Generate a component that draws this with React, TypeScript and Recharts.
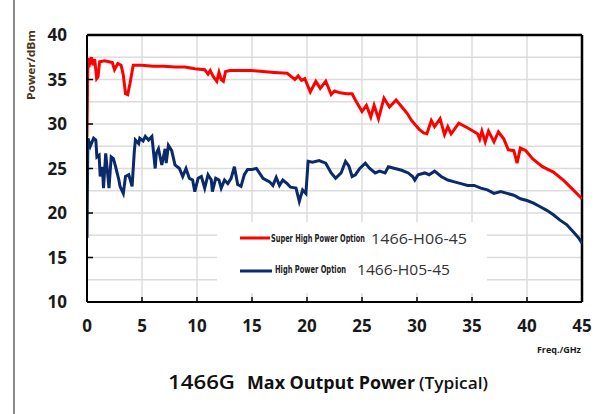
import { LineChart, Line, XAxis, YAxis, ReferenceLine, Legend } from "recharts";
/* eslint-disable  @typescript-eslint/no-explicit-any */

// Super High Power Option (1466-H06-45)
const RED_FREQ = [
  0, 0.08, 0.25, 0.4, 0.55, 0.7, 0.88, 1.0, 1.15, 1.6, 2.0, 2.3, 2.5, 2.8, 3.1,
  3.3, 3.5, 3.7, 3.9, 4.2, 5, 6, 7, 8, 8.9, 9.8, 10.7, 11.0, 11.2, 11.5, 11.8,
  12.0, 12.2, 12.4, 12.6, 13.0, 14.0, 15.0, 16.0, 17.0, 18.2, 18.6, 18.9, 19.2,
  19.5, 19.8, 20.3, 20.8, 21.2, 21.7, 22.2, 22.5, 23.0, 23.6, 24.1, 24.4, 25.0,
  25.4, 25.8, 26.1, 26.5, 27.0, 27.5, 28.1, 28.7, 29.1, 29.5, 30.2, 30.6, 30.9,
  31.3, 31.6, 32.1, 32.5, 32.8, 33.1, 33.8, 34.7, 35.5, 35.7, 35.9, 36.2, 36.5,
  37.0, 37.4, 37.9, 38.3, 38.8, 39.1, 39.4, 39.9, 40.5, 41.4, 42.4, 43.3, 44.2,
  45.0,
];
const RED_POWER = [
  28.5, 37.4, 36.8, 37.5, 36.6, 37.3, 35.1, 35.3, 37.0, 37.1, 37.0, 36.9, 36.1,
  36.8, 36.6, 35.5, 33.4, 33.3, 34.5, 36.6, 36.6, 36.5, 36.5, 36.4, 36.4, 36.2,
  36.1, 35.6, 36.0, 35.3, 34.8, 35.8, 35.0, 34.8, 35.9, 36.0, 36.0, 36.0, 35.9,
  35.8, 35.7, 35.3, 35.0, 35.4, 34.9, 35.1, 33.6, 34.8, 34.0, 34.8, 33.3, 33.7,
  33.5, 33.4, 33.4, 32.7, 31.4, 32.1, 30.8, 32.1, 30.6, 32.9, 31.9, 32.7, 31.8,
  31.2, 30.4, 29.4, 29.0, 28.9, 30.4, 29.7, 30.6, 28.8, 29.7, 28.9, 30.1, 29.5,
  28.9, 28.3, 29.2, 28.0, 29.2, 28.0, 29.1, 28.3, 27.1, 27.0, 25.6, 27.3, 27.0,
  26.1, 25.2, 24.6, 23.7, 22.6, 21.6,
];

// High Power Option (1466-H05-45)
const BLUE_FREQ = [
  0, 0.08, 0.3, 0.6, 0.8, 0.9, 1.1, 1.2, 1.4, 1.5, 1.7, 2.0, 2.2, 2.4, 2.6, 2.9,
  3.0, 3.3, 3.5, 3.8, 4.1, 4.3, 4.4, 4.7, 4.8, 5.1, 5.3, 5.6, 5.9, 6.2, 6.3,
  6.5, 6.8, 7.1, 7.2, 7.4, 7.7, 8.0, 8.4, 8.7, 9.0, 9.3, 9.6, 9.8, 10.1, 10.4,
  10.7, 11.0, 11.3, 11.4, 11.7, 12.0, 12.2, 12.5, 12.8, 13.1, 13.4, 13.7, 14.0,
  14.3, 14.6, 15.0, 15.4, 16.0, 16.6, 16.9, 17.2, 17.5, 17.8, 18.2, 18.5, 19.0,
  19.3, 19.6, 19.9, 20.1, 20.5, 21.1, 21.7, 22.2, 22.6, 23.1, 23.5, 23.8, 24.1,
  24.4, 24.8, 25.3, 25.7, 26.2, 26.6, 27.1, 27.4, 28.0, 28.6, 29.2, 29.6, 29.8,
  30.1, 30.7, 31.1, 31.6, 32.2, 32.8, 33.4, 34.0, 34.6, 35.2, 35.8, 36.4, 37.0,
  37.6, 38.2, 38.8, 39.4, 40.0, 40.6, 41.2, 41.8, 42.4, 43.0, 43.6, 44.2, 44.7,
  45.0,
];
const BLUE_POWER = [
  17.2, 28.4, 27.5, 28.4, 28.2, 26.3, 26.5, 24.1, 25.2, 22.8, 26.7, 22.8, 26.3,
  26.1, 25.2, 23.7, 23.0, 22.2, 24.1, 24.3, 23.0, 26.9, 28.2, 27.8, 28.4, 28.1,
  28.6, 28.2, 28.6, 25.0, 26.7, 27.2, 25.4, 27.2, 25.6, 27.6, 27.0, 25.4, 25.0,
  24.1, 25.0, 23.9, 23.7, 22.4, 23.9, 24.1, 22.8, 24.3, 23.7, 22.4, 23.9, 23.7,
  22.8, 23.7, 23.3, 23.9, 25.2, 23.2, 23.0, 24.3, 24.9, 24.9, 25.0, 23.9, 23.5,
  23.1, 24.0, 23.1, 23.7, 23.3, 22.9, 22.8, 21.3, 22.6, 22.2, 25.8, 25.7, 25.9,
  25.6, 24.5, 23.9, 24.5, 25.8, 25.3, 24.1, 24.3, 25.0, 25.6, 25.0, 24.5, 24.7,
  24.5, 25.2, 25.0, 24.8, 24.5, 24.1, 23.7, 24.3, 24.5, 24.3, 24.7, 24.1, 23.7,
  23.5, 23.3, 23.1, 23.1, 22.8, 22.6, 22.2, 22.4, 22.2, 22.0, 21.6, 21.4, 21.1,
  20.7, 20.3, 19.8, 19.2, 18.7, 17.9, 17.2, 16.6,
];

const X_TICKS = [0, 5, 10, 15, 20, 25, 30, 35, 40, 45];
const Y_TICKS = [10, 15, 20, 25, 30, 35, 40];
const GRID_X = [5, 10, 15, 20, 25, 30, 35, 40];
const GRID_Y = [12.5, 15, 17.5, 20, 22.5, 25, 27.5, 30, 32.5, 35, 37.5];

const SERIES_NAMES = ["Super High Power Option", "High Power Option"];
const SERIES_MODELS = ["1466-H06-45", "1466-H05-45"];
const RED = "#ff0000";
const NAVY = "#0b2a6b";

const redData = RED_FREQ.map((f, i) => ({ f, p: RED_POWER[i] }));
const blueData = BLUE_FREQ.map((f, i) => ({ f, p: BLUE_POWER[i] }));

const FONT = "'Open Sans', 'Noto Sans', sans-serif";
const NARROW = "'Liberation Sans Narrow', 'DejaVu Sans Condensed', sans-serif";

const YTick = (props: any) => {
  const { x, y, payload } = props;
  return (
    <g>
      <line x1={x} x2={x + 6} y1={y} y2={y} stroke="#000" strokeWidth={1.5} />
      <text
        x={x - 20}
        y={y + 6}
        textAnchor="end"
        fontFamily={FONT}
        fontWeight={700}
        fontSize={17}
        fill="#1a1a1a"
      >
        {payload.value}
      </text>
    </g>
  );
};

const XTick = (props: any) => {
  const { x, y, payload } = props;
  return (
    <g>
      <line x1={x} x2={x} y1={y - 5} y2={y} stroke="#000" strokeWidth={1.5} />
      <text
        x={x}
        y={y + 30}
        textAnchor="middle"
        fontFamily={FONT}
        fontWeight={700}
        fontSize={17}
        fill="#1a1a1a"
      >
        {payload.value}
      </text>
    </g>
  );
};

// condensed option name: squeeze horizontally so it ends where the model text starts
const NarrowLabel = ({ x, y, width, text }: any) => {
  const sx = 0.6;
  return (
    <text
      transform={`translate(${x},${y}) scale(${sx},1)`}
      fontFamily={NARROW}
      fontWeight={700}
      fontSize={10.5}
      textLength={width / sx}
      lengthAdjust="spacingAndGlyphs"
      fill="#222"
    >
      {text}
    </text>
  );
};

const LegendBox = () => (
  <svg width={270} height={71} style={{ display: "block" }}>
    <line x1={23} x2={53} y1={16} y2={16} stroke={RED} strokeWidth={3} />
    <NarrowLabel x={54} y={20} width={94} text={SERIES_NAMES[0]} />
    <text
      x={154}
      y={22}
      fontFamily={FONT}
      fontSize={15}
      textLength={96}
      lengthAdjust="spacingAndGlyphs"
      fill="#333"
    >
      {SERIES_MODELS[0]}
    </text>
    <line x1={23} x2={55} y1={49} y2={49} stroke={NAVY} strokeWidth={3} />
    <NarrowLabel x={58} y={51} width={71} text={SERIES_NAMES[1]} />
    <text
      x={140}
      y={53}
      fontFamily={FONT}
      fontSize={15}
      textLength={93}
      lengthAdjust="spacingAndGlyphs"
      fill="#333"
    >
      {SERIES_MODELS[1]}
    </text>
  </svg>
);

export default function App() {
  return (
    <div
      style={{
        position: "absolute",
        left: 0,
        top: 0,
        width: 601,
        height: 414,
        background: "#fff",
      }}
    >
      <LineChart
        width={601}
        height={414}
        margin={{ top: 35, right: 19, left: 37, bottom: 82 }}
      >
        {GRID_X.map((v) => (
          <ReferenceLine key={"gx" + v} x={v} stroke="#dcdcdc" strokeWidth={1.5} />
        ))}
        {GRID_Y.map((v) => (
          <ReferenceLine key={"gy" + v} y={v} stroke="#dcdcdc" strokeWidth={1.5} />
        ))}
        <XAxis
          type="number"
          dataKey="f"
          domain={[0, 45]}
          ticks={X_TICKS}
          allowDataOverflow
          height={30}
          tickSize={0}
          tickMargin={0}
          tick={<XTick />}
          axisLine={{ stroke: "#000", strokeWidth: 2 }}
        />
        <YAxis
          type="number"
          domain={[10, 40]}
          ticks={Y_TICKS}
          width={50}
          tickSize={0}
          tickMargin={0}
          tick={<YTick />}
          axisLine={{ stroke: "#000", strokeWidth: 2 }}
        />
        <ReferenceLine y={40} stroke="#000" strokeWidth={2.5} />
        <ReferenceLine x={45} stroke="#000" strokeWidth={2.5} />
        <Line
          data={redData}
          dataKey="p"
          name={SERIES_NAMES[0]}
          type="linear"
          stroke={RED}
          strokeWidth={3}
          dot={false}
          isAnimationActive={false}
        />
        <Line
          data={blueData}
          dataKey="p"
          name={SERIES_NAMES[1]}
          type="linear"
          stroke={NAVY}
          strokeWidth={3}
          dot={false}
          isAnimationActive={false}
        />
        <Legend
          layout="vertical"
          align="center"
          verticalAlign="middle"
          content={() => <LegendBox />}
          wrapperStyle={{
            position: "absolute",
            left: 217,
            top: 222,
            width: 270,
            height: 71,
            background: "#fff",
          }}
        />
      </LineChart>
      <svg
        width={601}
        height={414}
        style={{ position: "absolute", left: 0, top: 0, pointerEvents: "none" }}
      >
        <line x1={14} x2={14} y1={0} y2={414} stroke="#8a8a8a" strokeWidth={2} />
        <text
          transform="translate(35,65) rotate(-90)"
          textAnchor="middle"
          fontFamily={FONT}
          fontWeight={700}
          fontSize={11}
          textLength={70}
          lengthAdjust="spacingAndGlyphs"
          fill="#4d3319"
        >
          Power/dBm
        </text>
        <text
          x={581}
          y={353}
          textAnchor="end"
          fontFamily={FONT}
          fontWeight={700}
          fontSize={9}
          fill="#1a1a1a"
        >
          Freq./GHz
        </text>
        <text
          x={168}
          y={389}
          fontFamily={FONT}
          fontSize={20}
          fontWeight={600}
          textLength={67}
          lengthAdjust="spacingAndGlyphs"
          fill="#111"
        >
          1466G
        </text>
        <text
          x={247}
          y={389}
          fontFamily={FONT}
          fontSize={18}
          fontWeight={700}
          textLength={168}
          lengthAdjust="spacingAndGlyphs"
          fill="#111"
        >
          Max Output Power
        </text>
        <text
          x={419}
          y={389}
          fontFamily={FONT}
          fontSize={15.5}
          fontWeight={600}
          textLength={69}
          lengthAdjust="spacingAndGlyphs"
          fill="#111"
        >
          (Typical)
        </text>
      </svg>
    </div>
  );
}
